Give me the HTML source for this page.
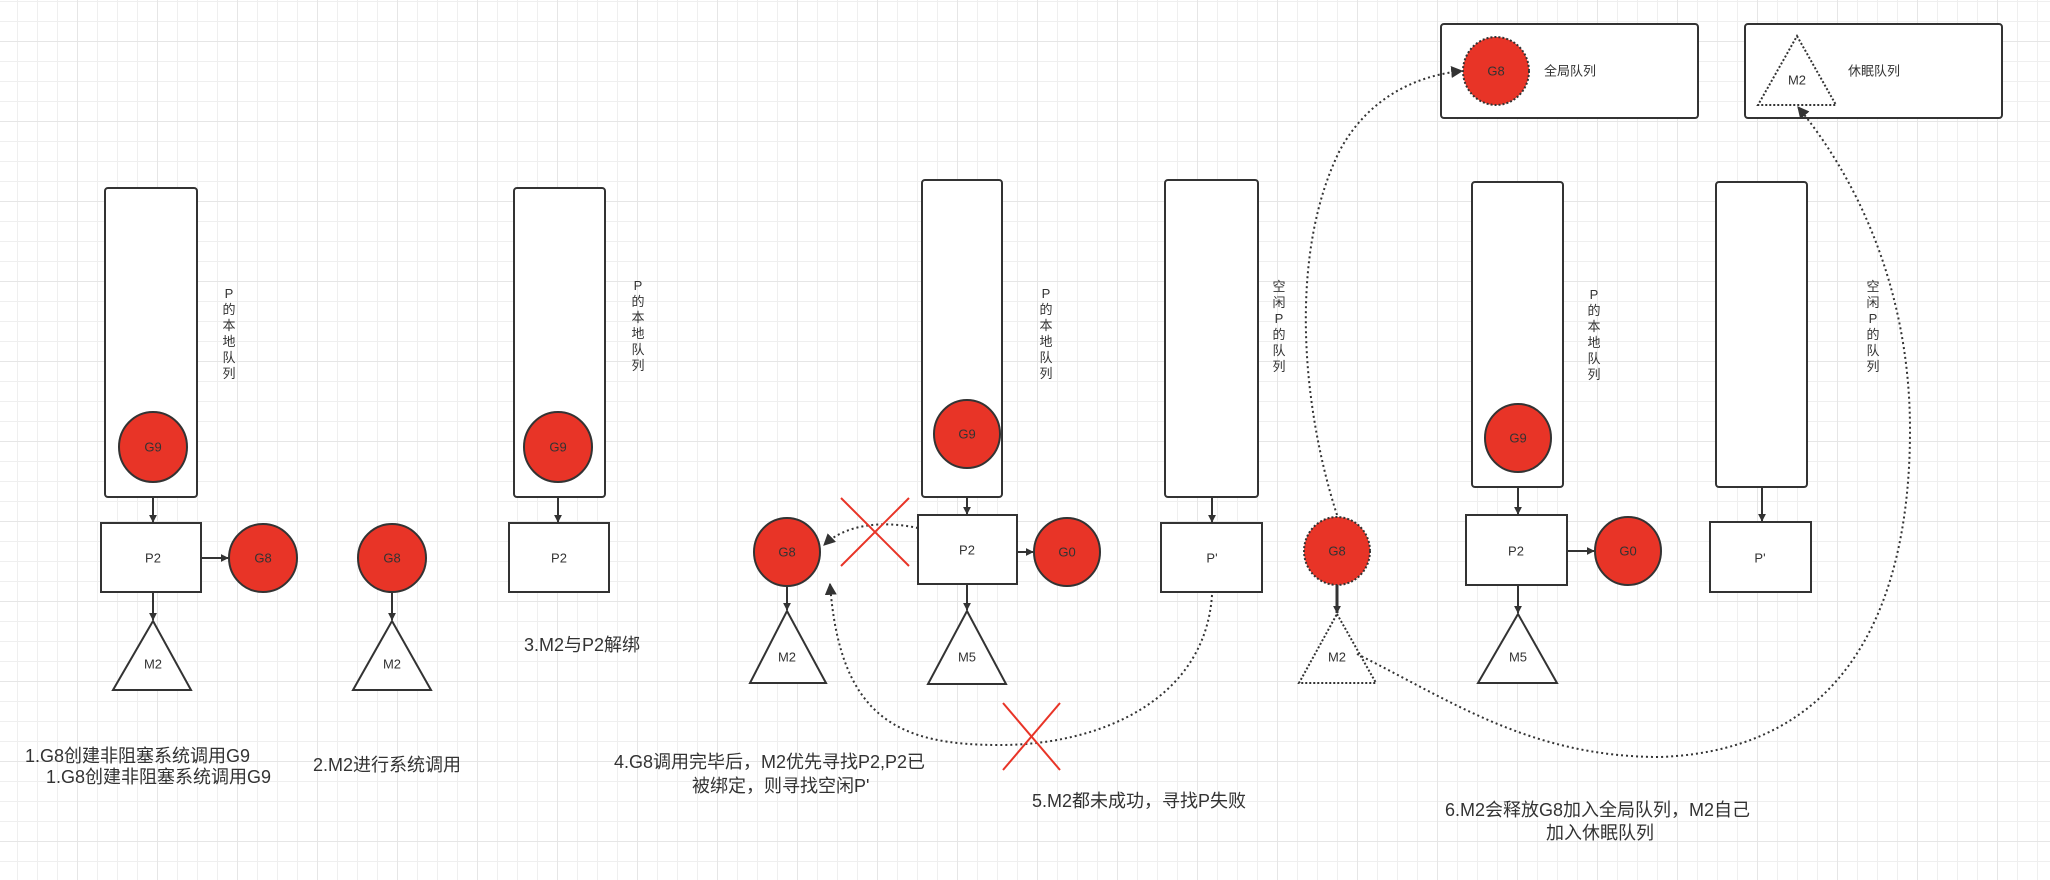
<!DOCTYPE html>
<html><head><meta charset="utf-8"><style>
html,body{margin:0;padding:0;background:#fff}
svg{display:block}
text{font-family:"Liberation Sans","Noto Sans CJK SC",sans-serif;fill:#333}
</style></head><body>
<svg width="2050" height="880" viewBox="0 0 2050 880" xmlns="http://www.w3.org/2000/svg">
<defs>
<pattern id="minor" width="20" height="20" patternUnits="userSpaceOnUse" x="-3" y="1">
<path d="M0 0H20M0 0V20" stroke="#efefef" stroke-width="2" fill="none"/>
</pattern>
<pattern id="major" width="80" height="80" patternUnits="userSpaceOnUse" x="-3" y="41">
<path d="M0 0H80M0 0V80" stroke="#e6e6e6" stroke-width="2" fill="none"/>
</pattern>
<marker id="ar" viewBox="0 0 10 10" refX="9" refY="5" markerWidth="8" markerHeight="8" orient="auto" markerUnits="userSpaceOnUse">
<path d="M0 0L10 5L0 10z" fill="#333"/>
</marker>
<marker id="ar2" viewBox="0 0 10 10" refX="9" refY="5" markerWidth="12" markerHeight="12" orient="auto" markerUnits="userSpaceOnUse">
<path d="M0 0L10 5L0 10z" fill="#333"/>
</marker>
</defs>
<rect width="2050" height="880" fill="url(#minor)"/>
<rect width="2050" height="880" fill="url(#major)"/>

<g stroke="#333" stroke-width="2" fill="#fff">
<rect x="105" y="188" width="92" height="309" rx="3"/>
<rect x="101" y="523" width="100" height="69"/>
<polygon points="153,621 191,690 113,690"/>
<polygon points="392,621 431,690 353,690"/>
<rect x="514" y="188" width="91" height="309" rx="3"/>
<rect x="509" y="523" width="100" height="69"/>
<rect x="922" y="180" width="80" height="317" rx="3"/>
<rect x="918" y="515" width="99" height="69"/>
<polygon points="967,611 1006,684 928,684"/>
<polygon points="787,611 826,683 750,683"/>
<rect x="1165" y="180" width="93" height="317" rx="3"/>
<rect x="1161" y="523" width="101" height="69"/>
<rect x="1441" y="24" width="257" height="94" rx="3"/>
<rect x="1745" y="24" width="257" height="94" rx="3"/>
<rect x="1472" y="182" width="91" height="305" rx="3"/>
<rect x="1466" y="515" width="101" height="70"/>
<polygon points="1518,614 1557,683 1478,683"/>
<rect x="1716" y="182" width="91" height="305" rx="3"/>
<rect x="1710" y="522" width="101" height="70"/>
</g>

<g stroke="#333" stroke-width="2" stroke-dasharray="2,2" fill="none">
<polygon points="1797,36 1836,105 1758,105" fill="#fff"/>
<polygon points="1337,614 1376,683 1299,683" fill="#fff"/>
<ellipse cx="1496" cy="71" rx="33" ry="34" fill="#e83427"/>
<ellipse cx="1337" cy="551" rx="33" ry="34" fill="#e83427"/>
</g>

<g stroke="#333" stroke-width="2" fill="#e83427">
<ellipse cx="153" cy="447" rx="34" ry="35"/>
<ellipse cx="263" cy="558" rx="34" ry="34"/>
<ellipse cx="392" cy="558" rx="34" ry="34"/>
<ellipse cx="558" cy="447" rx="34" ry="35"/>
<ellipse cx="967" cy="434" rx="33" ry="34"/>
<ellipse cx="1067" cy="552" rx="33" ry="34"/>
<ellipse cx="787" cy="552" rx="33" ry="34"/>
<ellipse cx="1518" cy="438" rx="33" ry="34"/>
<ellipse cx="1628" cy="551" rx="33" ry="34"/>
</g>

<g stroke="#333" stroke-width="2" fill="none" marker-end="url(#ar)">
<line x1="153" y1="497" x2="153" y2="522"/>
<line x1="201" y1="558" x2="228" y2="558"/>
<line x1="153" y1="592" x2="153" y2="620"/>
<line x1="392" y1="592" x2="392" y2="620"/>
<line x1="558" y1="497" x2="558" y2="522"/>
<line x1="967" y1="497" x2="967" y2="514"/>
<line x1="1017" y1="552" x2="1033" y2="552"/>
<line x1="967" y1="584" x2="967" y2="610"/>
<line x1="787" y1="586" x2="787" y2="610"/>
<line x1="1212" y1="497" x2="1212" y2="522"/>
<line x1="1518" y1="487" x2="1518" y2="514"/>
<line x1="1567" y1="551" x2="1594" y2="551"/>
<line x1="1518" y1="585" x2="1518" y2="613"/>
<line x1="1762" y1="487" x2="1762" y2="521"/>
<line x1="1337" y1="585" x2="1337" y2="613" stroke-width="3"/>
</g>

<g stroke="#333" stroke-width="2" stroke-dasharray="2,3" fill="none" marker-end="url(#ar2)">
<path d="M918 528 C880 520 845 525 824 545"/>
<path d="M1212 595 C1205 700 1100 745 1000 745 C900 745 840 720 830 584"/>
<path d="M1337 515 C1300 400 1290 250 1340 150 C1370 95 1420 75 1462 71"/>
<path d="M1357 654 C1450 700 1530 757 1660 757 C1850 750 1910 600 1910 430 C1910 280 1850 170 1798 107"/>
</g>

<g stroke="#e83427" stroke-width="2">
<line x1="841" y1="498" x2="909" y2="566"/>
<line x1="909" y1="498" x2="841" y2="566"/>
<line x1="1003" y1="703" x2="1060" y2="770"/>
<line x1="1060" y1="703" x2="1003" y2="770"/>
</g>

<g font-size="13" text-anchor="middle" dominant-baseline="central">
<text x="153" y="447">G9</text>
<text x="263" y="558">G8</text>
<text x="153" y="558">P2</text>
<text x="153" y="664">M2</text>
<text x="392" y="558">G8</text>
<text x="392" y="664">M2</text>
<text x="558" y="447">G9</text>
<text x="559" y="558">P2</text>
<text x="967" y="434">G9</text>
<text x="967" y="550">P2</text>
<text x="1067" y="552">G0</text>
<text x="967" y="657">M5</text>
<text x="787" y="552">G8</text>
<text x="787" y="657">M2</text>
<text x="1212" y="558">P'</text>
<text x="1496" y="71">G8</text>
<text x="1797" y="80">M2</text>
<text x="1518" y="438">G9</text>
<text x="1516" y="551">P2</text>
<text x="1628" y="551">G0</text>
<text x="1518" y="657">M5</text>
<text x="1760" y="558">P'</text>
<text x="1337" y="551">G8</text>
<text x="1337" y="657">M2</text>
</g>
<g font-size="13" dominant-baseline="central">
<text x="1544" y="71">全局队列</text>
<text x="1848" y="71">休眠队列</text>
</g>

<g font-size="13" text-anchor="middle">
<text x="229" y="298"><tspan x="229">P</tspan><tspan x="229" dy="16">的</tspan><tspan x="229" dy="16">本</tspan><tspan x="229" dy="16">地</tspan><tspan x="229" dy="16">队</tspan><tspan x="229" dy="16">列</tspan></text>
<text x="638" y="290"><tspan x="638">P</tspan><tspan x="638" dy="16">的</tspan><tspan x="638" dy="16">本</tspan><tspan x="638" dy="16">地</tspan><tspan x="638" dy="16">队</tspan><tspan x="638" dy="16">列</tspan></text>
<text x="1046" y="298"><tspan x="1046">P</tspan><tspan x="1046" dy="16">的</tspan><tspan x="1046" dy="16">本</tspan><tspan x="1046" dy="16">地</tspan><tspan x="1046" dy="16">队</tspan><tspan x="1046" dy="16">列</tspan></text>
<text x="1279" y="291"><tspan x="1279">空</tspan><tspan x="1279" dy="16">闲</tspan><tspan x="1279" dy="16">P</tspan><tspan x="1279" dy="16">的</tspan><tspan x="1279" dy="16">队</tspan><tspan x="1279" dy="16">列</tspan></text>
<text x="1594" y="299"><tspan x="1594">P</tspan><tspan x="1594" dy="16">的</tspan><tspan x="1594" dy="16">本</tspan><tspan x="1594" dy="16">地</tspan><tspan x="1594" dy="16">队</tspan><tspan x="1594" dy="16">列</tspan></text>
<text x="1873" y="291"><tspan x="1873">空</tspan><tspan x="1873" dy="16">闲</tspan><tspan x="1873" dy="16">P</tspan><tspan x="1873" dy="16">的</tspan><tspan x="1873" dy="16">队</tspan><tspan x="1873" dy="16">列</tspan></text>
</g>

<g font-size="18">
<text x="25" y="762">1.G8创建非阻塞系统调用G9</text>
<text x="46" y="783">1.G8创建非阻塞系统调用G9</text>
<text x="313" y="771">2.M2进行系统调用</text>
<text x="524" y="651">3.M2与P2解绑</text>
<text x="614" y="768">4.G8调用完毕后，M2优先寻找P2,P2已</text>
<text x="692" y="792">被绑定，则寻找空闲P'</text>
<text x="1032" y="807">5.M2都未成功，寻找P失败</text>
<text x="1445" y="816">6.M2会释放G8加入全局队列，M2自己</text>
<text x="1546" y="839">加入休眠队列</text>
</g>
</svg>
</body></html>
